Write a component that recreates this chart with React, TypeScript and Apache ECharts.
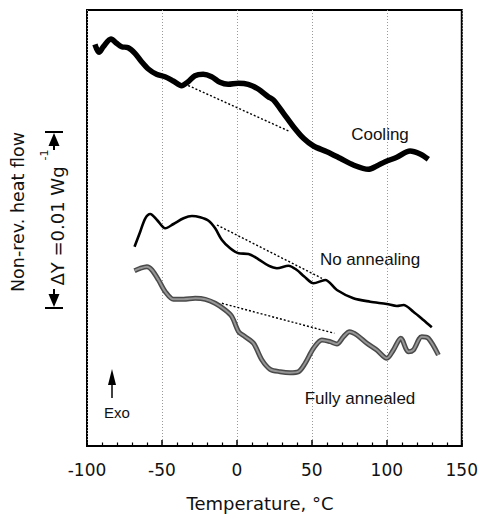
import React, { useEffect, useRef } from "react";
import * as echarts from "echarts";

// Temperature (°C) vs non-reversing heat flow (arbitrary offset units, 17.5 units ≈ 0.001 W/g)
const cooling: [number, number][] = [
  [-94.7, 401.7], [-92.0, 393.7], [-89.1, 399.3], [-84.0, 407], [-80.3, 402.7], [-76.9, 399.3],
  [-72.5, 398.3], [-68.0, 392.7], [-63.6, 384.3], [-59.1, 377], [-53.6, 371.7], [-48.0, 369.3],
  [-42.5, 365], [-36.9, 360.3], [-32.5, 364.3], [-28.0, 370.3], [-22.5, 371.7], [-16.9, 369.3],
  [-11.3, 363.7], [-5.8, 361.7], [0.9, 362.7], [7.5, 361.7], [14.2, 357], [20.9, 349.3],
  [24.4, 346], [31.1, 332.7], [37.7, 319.3], [44.4, 307.7], [51.1, 300], [60.0, 294.3],
  [68.9, 287.7], [77.7, 281], [87.7, 276.7], [93.3, 280], [98.9, 284.3], [106.7, 288.7],
  [115.5, 295], [122.2, 292], [127.7, 286.7],
];

const noAnnealing: [number, number][] = [
  [-68.3, 199.3], [-64.5, 214.3], [-61.1, 227.7], [-57.8, 232], [-53.3, 226], [-47.8, 217.7],
  [-42.3, 222], [-35.6, 227.7], [-30.0, 230], [-24.5, 228.7], [-18.9, 225.3], [-14.5, 217.7],
  [-10.0, 206], [-4.5, 197.7], [1.1, 192.7], [7.7, 192], [14.4, 186.7], [21.1, 180.3],
  [26.7, 177.7], [34.4, 180.3], [40.0, 176], [44.9, 169.5], [51.1, 162.7], [58.9, 166],
  [66.7, 156], [77.7, 147.7], [88.9, 144.3], [100.0, 142], [106.7, 140], [111.1, 141],
  [117.7, 134.3], [124.4, 126], [130.0, 118.7],
];

const fullyAnnealed: [number, number][] = [
  [-68.3, 175.3], [-64.5, 177.7], [-60.0, 179.3], [-56.7, 176], [-52.3, 166], [-47.8, 154.3],
  [-42.3, 146.7], [-35.6, 146.7], [-27.8, 147.7], [-21.1, 146.7], [-14.5, 142.7], [-7.8, 136],
  [-3.3, 129.3], [1.1, 114.3], [5.5, 109.3], [11.1, 102.7], [16.7, 86], [22.2, 76.7],
  [28.9, 74.3], [35.5, 73.3], [41.1, 74.3], [45.5, 82.7], [51.1, 97.7], [56.7, 106],
  [62.2, 104.3], [66.7, 102], [71.1, 109.3], [75.1, 114.3], [80.0, 111], [86.7, 102.7],
  [93.3, 96], [100.0, 87.7], [104.4, 96], [109.3, 107.7], [114.4, 94.3], [117.7, 96],
  [123.3, 109.3], [127.7, 107.7], [134.4, 91],
];

const coolingBase: [number, number][] = [[-32.5, 360.5], [35.5, 314.3]];
const noAnnealingBase: [number, number][] = [[-13.3, 221], [56.7, 167.7]];
const fullyAnnealedBase: [number, number][] = [[-10.0, 142.7], [65.0, 112.7]];

const xTicks = [-100, -50, 0, 50, 100, 150];
const curveLabels = ["Cooling", "No annealing", "Fully annealed"];

const AXIS_FONT = '"DejaVu Sans", sans-serif';
const LABEL_FONT = '"Liberation Sans", Arial, sans-serif';

export default function App() {
  const ref = useRef<HTMLDivElement>(null);

  useEffect(() => {
    if (!ref.current) return;
    const chart = echarts.init(ref.current, undefined, { renderer: "svg" });

    const baseStyle = { color: "#000", width: 1.4, type: [2, 2] as any };
    const txt = (
      text: string,
      x: number,
      y: number,
      font: string,
      rotation = 0
    ) => ({
      type: "text",
      x,
      y,
      rotation,
      silent: true,
      style: {
        text,
        font,
        fill: "#111",
        align: "center",
        verticalAlign: "middle",
        textAlign: "center",
        textVerticalAlign: "middle",
      },
    });

    chart.setOption({
      animation: false,
      backgroundColor: "#fff",
      grid: {
        left: 87,
        top: 10,
        width: 375,
        height: 436,
        show: true,
        borderColor: "#000",
        borderWidth: 2,
        backgroundColor: "transparent",
      },
      xAxis: {
        type: "value",
        min: xTicks[0],
        max: xTicks[xTicks.length - 1],
        interval: 50,
        axisLine: { show: true, onZero: false, lineStyle: { color: "#000", width: 2 } },
        axisTick: { show: true, inside: true, length: 6, lineStyle: { color: "#000", width: 1.5 } },
        minorTick: { show: true, splitNumber: 5, length: 3.5, lineStyle: { color: "#000", width: 1.2 } },
        splitLine: { show: true, lineStyle: { color: "#9a9a9a", width: 1, type: [1, 2] as any } },
        axisLabel: {
          color: "#111",
          fontFamily: "DejaVu Sans",
          fontSize: 17,
          margin: 15,
        },
      },
      yAxis: {
        type: "value",
        min: 0,
        max: 436,
        axisLine: { show: false, onZero: false },
        axisTick: { show: false },
        axisLabel: { show: false },
        splitLine: { show: false },
      },
      series: [
        { type: "line", data: coolingBase, symbol: "none", lineStyle: baseStyle, z: 2 },
        { type: "line", data: noAnnealingBase, symbol: "none", lineStyle: baseStyle, z: 2 },
        { type: "line", data: fullyAnnealedBase, symbol: "none", lineStyle: baseStyle, z: 2 },
        {
          name: curveLabels[1],
          type: "line",
          data: noAnnealing,
          symbol: "none",
          smooth: 0.3,
          lineStyle: { color: "#000", width: 2.6 },
          z: 3,
        },
        {
          name: curveLabels[2],
          type: "line",
          data: fullyAnnealed,
          symbol: "none",
          smooth: 0.3,
          lineStyle: { color: "#4a4a4a", width: 5 },
          z: 3,
        },
        {
          name: curveLabels[2] + " (inner)",
          type: "line",
          data: fullyAnnealed,
          symbol: "none",
          smooth: 0.3,
          lineStyle: { color: "#969696", width: 2 },
          z: 4,
        },
        {
          name: curveLabels[0],
          type: "line",
          data: cooling,
          symbol: "none",
          smooth: 0.3,
          lineStyle: { color: "#000", width: 5.5 },
          z: 5,
        },
      ],
      graphic: [
        txt(curveLabels[0], 380, 134, `17px ${LABEL_FONT}`),
        txt(curveLabels[1], 370, 259, `17px ${LABEL_FONT}`),
        txt(curveLabels[2], 360, 398, `17px ${LABEL_FONT}`),
        txt("Exo", 117, 412, `15px ${LABEL_FONT}`),
        txt("Temperature, °C", 260, 503, `18px ${AXIS_FONT}`),
        txt("Non-rev. heat flow", 18, 212, `17.5px ${AXIS_FONT}`, Math.PI / 2),
        txt("ΔY =0.01 Wg", 57, 226, `18px ${AXIS_FONT}`, Math.PI / 2),
        txt("-1", 44, 155, `11px ${AXIS_FONT}`, Math.PI / 2),
        // Exo arrow
        { type: "line", silent: true, shape: { x1: 112, y1: 380, x2: 112, y2: 398 }, style: { stroke: "#000", lineWidth: 1.5 } },
        { type: "polygon", silent: true, shape: { points: [[112, 369], [108, 385], [116, 385]] }, style: { fill: "#000" } },
        // ΔY scale bar: top
        { type: "line", silent: true, shape: { x1: 45, y1: 132, x2: 63, y2: 132 }, style: { stroke: "#000", lineWidth: 2 } },
        { type: "polygon", silent: true, shape: { points: [[54, 133], [48.5, 146], [59.5, 146]] }, style: { fill: "#000" } },
        { type: "line", silent: true, shape: { x1: 54, y1: 140, x2: 54, y2: 150 }, style: { stroke: "#000", lineWidth: 2 } },
        // ΔY scale bar: bottom
        { type: "line", silent: true, shape: { x1: 45, y1: 308, x2: 63, y2: 308 }, style: { stroke: "#000", lineWidth: 2 } },
        { type: "polygon", silent: true, shape: { points: [[54, 307], [48.5, 294], [59.5, 294]] }, style: { fill: "#000" } },
        { type: "line", silent: true, shape: { x1: 54, y1: 289, x2: 54, y2: 300 }, style: { stroke: "#000", lineWidth: 2 } },
      ],
    });

    return () => chart.dispose();
  }, []);

  return (
    <div
      ref={ref}
      style={{ position: "fixed", left: 0, top: 0, width: 481, height: 524, background: "#fff" }}
    />
  );
}
